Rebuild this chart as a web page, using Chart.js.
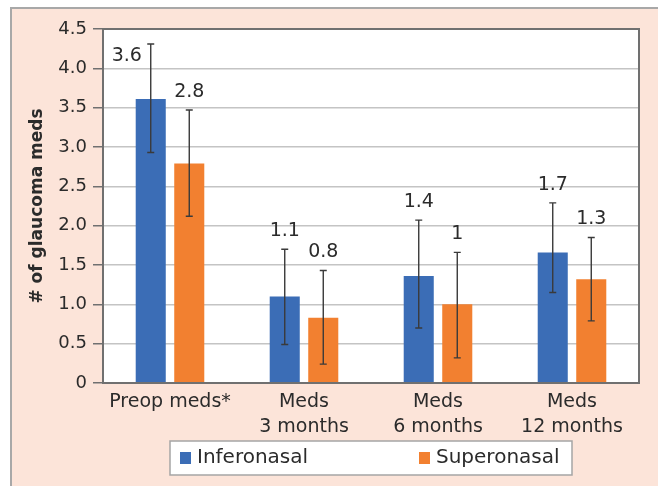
<!DOCTYPE html>
<html>
<head>
<meta charset="utf-8">
<script src="https://cdn.jsdelivr.net/npm/chart.js@4.4.0/dist/chart.umd.min.js"></script>
<style>
    body { margin: 0; background: #fff; }
    #frame {
        position: absolute; left: 10px; top: 7px; width: 646px; height: 479px;
        background: #fce4d9; border-top: 2px solid #a8a8a8; border-left: 2px solid #a8a8a8;
    }
    #chart { position: absolute; left: 0; top: 0; }
</style>
</head>
<body>
<div id="frame"></div>
<canvas id="chart" width="658" height="486"></canvas>
<script>
// Chart data
const categories = [['Preop meds*'], ['Meds', '3 months'], ['Meds', '6 months'], ['Meds', '12 months']];
const seriesNames = ['Inferonasal', 'Superonasal'];
const inferonasal = [3.61, 1.10, 1.36, 1.66];
const superonasal = [2.79, 0.83, 1.00, 1.32];
const inferonasalHigh = [4.31, 1.70, 2.07, 2.29];
const inferonasalLow = [2.93, 0.49, 0.70, 1.15];
const superonasalHigh = [3.47, 1.43, 1.66, 1.85];
const superonasalLow = [2.12, 0.24, 0.32, 0.79];
const yTickLabels = ['0', '0.5', '1.0', '1.5', '2.0', '2.5', '3.0', '3.5', '4.0', '4.5'];

const seriesColors = ['#3b6db6', '#f28030'];
const textColor = '#2b2b2b';

Chart.defaults.font.family = "'DejaVu Sans', sans-serif";
Chart.defaults.color = textColor;

// White plot area and dark frame around it
const plotFrame = {
    id: 'plotFrame',
    beforeDraw(chart) {
        const { ctx, chartArea: a } = chart;
        ctx.save();
        ctx.fillStyle = '#fff';
        ctx.fillRect(a.left, a.top, a.right - a.left, a.bottom - a.top);
        ctx.restore();
    },
    afterDraw(chart) {
        const { ctx, chartArea: a } = chart;
        ctx.save();
        ctx.strokeStyle = '#707070';
        ctx.lineWidth = 2;
        ctx.strokeRect(a.left, a.top, a.right - a.left, a.bottom - a.top);
        ctx.restore();
    }
};

// Error bars from the low/high arrays
const errorBars = {
    id: 'errorBars',
    afterDatasetsDraw(chart) {
        const ctx = chart.ctx;
        const y = chart.scales.y;
        ctx.save();
        ctx.strokeStyle = '#3a3a3a';
        ctx.lineWidth = 1.4;
        chart.data.datasets.forEach((ds, i) => {
            chart.getDatasetMeta(i).data.forEach((bar, j) => {
                const top = y.getPixelForValue(ds.errHigh[j]);
                const bottom = y.getPixelForValue(ds.errLow[j]);
                ctx.beginPath();
                ctx.moveTo(bar.x, top);
                ctx.lineTo(bar.x, bottom);
                ctx.moveTo(bar.x - 3.5, top);
                ctx.lineTo(bar.x + 3.5, top);
                ctx.moveTo(bar.x - 3.5, bottom);
                ctx.lineTo(bar.x + 3.5, bottom);
                ctx.stroke();
            });
        });
        ctx.restore();
    }
};

// Value labels above the error bars
const valueLabels = {
    id: 'valueLabels',
    afterDatasetsDraw(chart) {
        const ctx = chart.ctx;
        const y = chart.scales.y;
        ctx.save();
        ctx.font = "19px 'DejaVu Sans'";
        ctx.fillStyle = textColor;
        ctx.textAlign = 'center';
        ctx.textBaseline = 'middle';
        chart.data.datasets.forEach((ds, i) => {
            chart.getDatasetMeta(i).data.forEach((bar, j) => {
                const text = String(Number(ds.data[j].toFixed(1)));
                const top = y.getPixelForValue(ds.errHigh[j]);
                let lx = bar.x;
                let ly = top - 18;
                if (ly - 10 < chart.chartArea.top) {
                    // no room above: put it beside the error bar
                    lx = bar.x - 24;
                    ly = top + 12;
                }
                ctx.fillText(text, lx, ly);
            });
        });
        ctx.restore();
    }
};

// Boxed legend under the axis labels
const boxLegend = {
    id: 'boxLegend',
    afterDraw(chart) {
        const ctx = chart.ctx;
        ctx.save();
        ctx.fillStyle = '#fff';
        ctx.fillRect(170, 441, 402, 34);
        ctx.strokeStyle = '#a5a5a5';
        ctx.lineWidth = 1.5;
        ctx.strokeRect(170, 441, 402, 34);
        ctx.font = "20px 'DejaVu Sans'";
        ctx.textBaseline = 'middle';
        const itemX = [180, 419];
        seriesNames.forEach((name, i) => {
            ctx.fillStyle = seriesColors[i];
            ctx.fillRect(itemX[i], 452, 11, 12);
            ctx.fillStyle = textColor;
            ctx.fillText(name, itemX[i] + 17, 458);
        });
        ctx.restore();
    }
};

new Chart(document.getElementById('chart'), {
    type: 'bar',
    data: {
        labels: categories,
        datasets: [
            {
                label: seriesNames[0],
                data: inferonasal,
                errHigh: inferonasalHigh,
                errLow: inferonasalLow,
                backgroundColor: seriesColors[0]
            },
            {
                label: seriesNames[1],
                data: superonasal,
                errHigh: superonasalHigh,
                errLow: superonasalLow,
                backgroundColor: seriesColors[1]
            }
        ]
    },
    options: {
        responsive: false,
        animation: false,
        categoryPercentage: 0.575,
        barPercentage: 0.78,
        layout: {
            padding: { top: 29, right: 19, bottom: 0, left: 0 }
        },
        plugins: {
            legend: { display: false },
            tooltip: { enabled: false }
        },
        scales: {
            x: {
                grid: { display: false, drawTicks: false, tickLength: 0 },
                border: { display: true, color: '#707070', width: 2 },
                ticks: {
                    color: textColor,
                    padding: 7,
                    font: { size: 19, lineHeight: '25px' },
                    maxRotation: 0
                },
                afterFit(scale) { scale.height = 103; }
            },
            y: {
                min: 0,
                max: 4.5,
                grid: { color: '#c4c4c4', lineWidth: 1.5, tickColor: '#707070', tickLength: 10 },
                border: { display: true, color: '#707070', width: 2 },
                ticks: {
                    stepSize: 0.5,
                    padding: 6,
                    color: textColor,
                    font: { size: 18 },
                    callback: (value, index) => yTickLabels[index]
                },
                title: {
                    display: true,
                    text: '# of glaucoma meds',
                    color: textColor,
                    font: { size: 17, weight: 'bold' },
                    padding: { top: 27, bottom: 0 }
                },
                afterFit(scale) { scale.width = 103; }
            }
        }
    },
    plugins: [plotFrame, errorBars, valueLabels, boxLegend]
});
</script>
</body>
</html>
